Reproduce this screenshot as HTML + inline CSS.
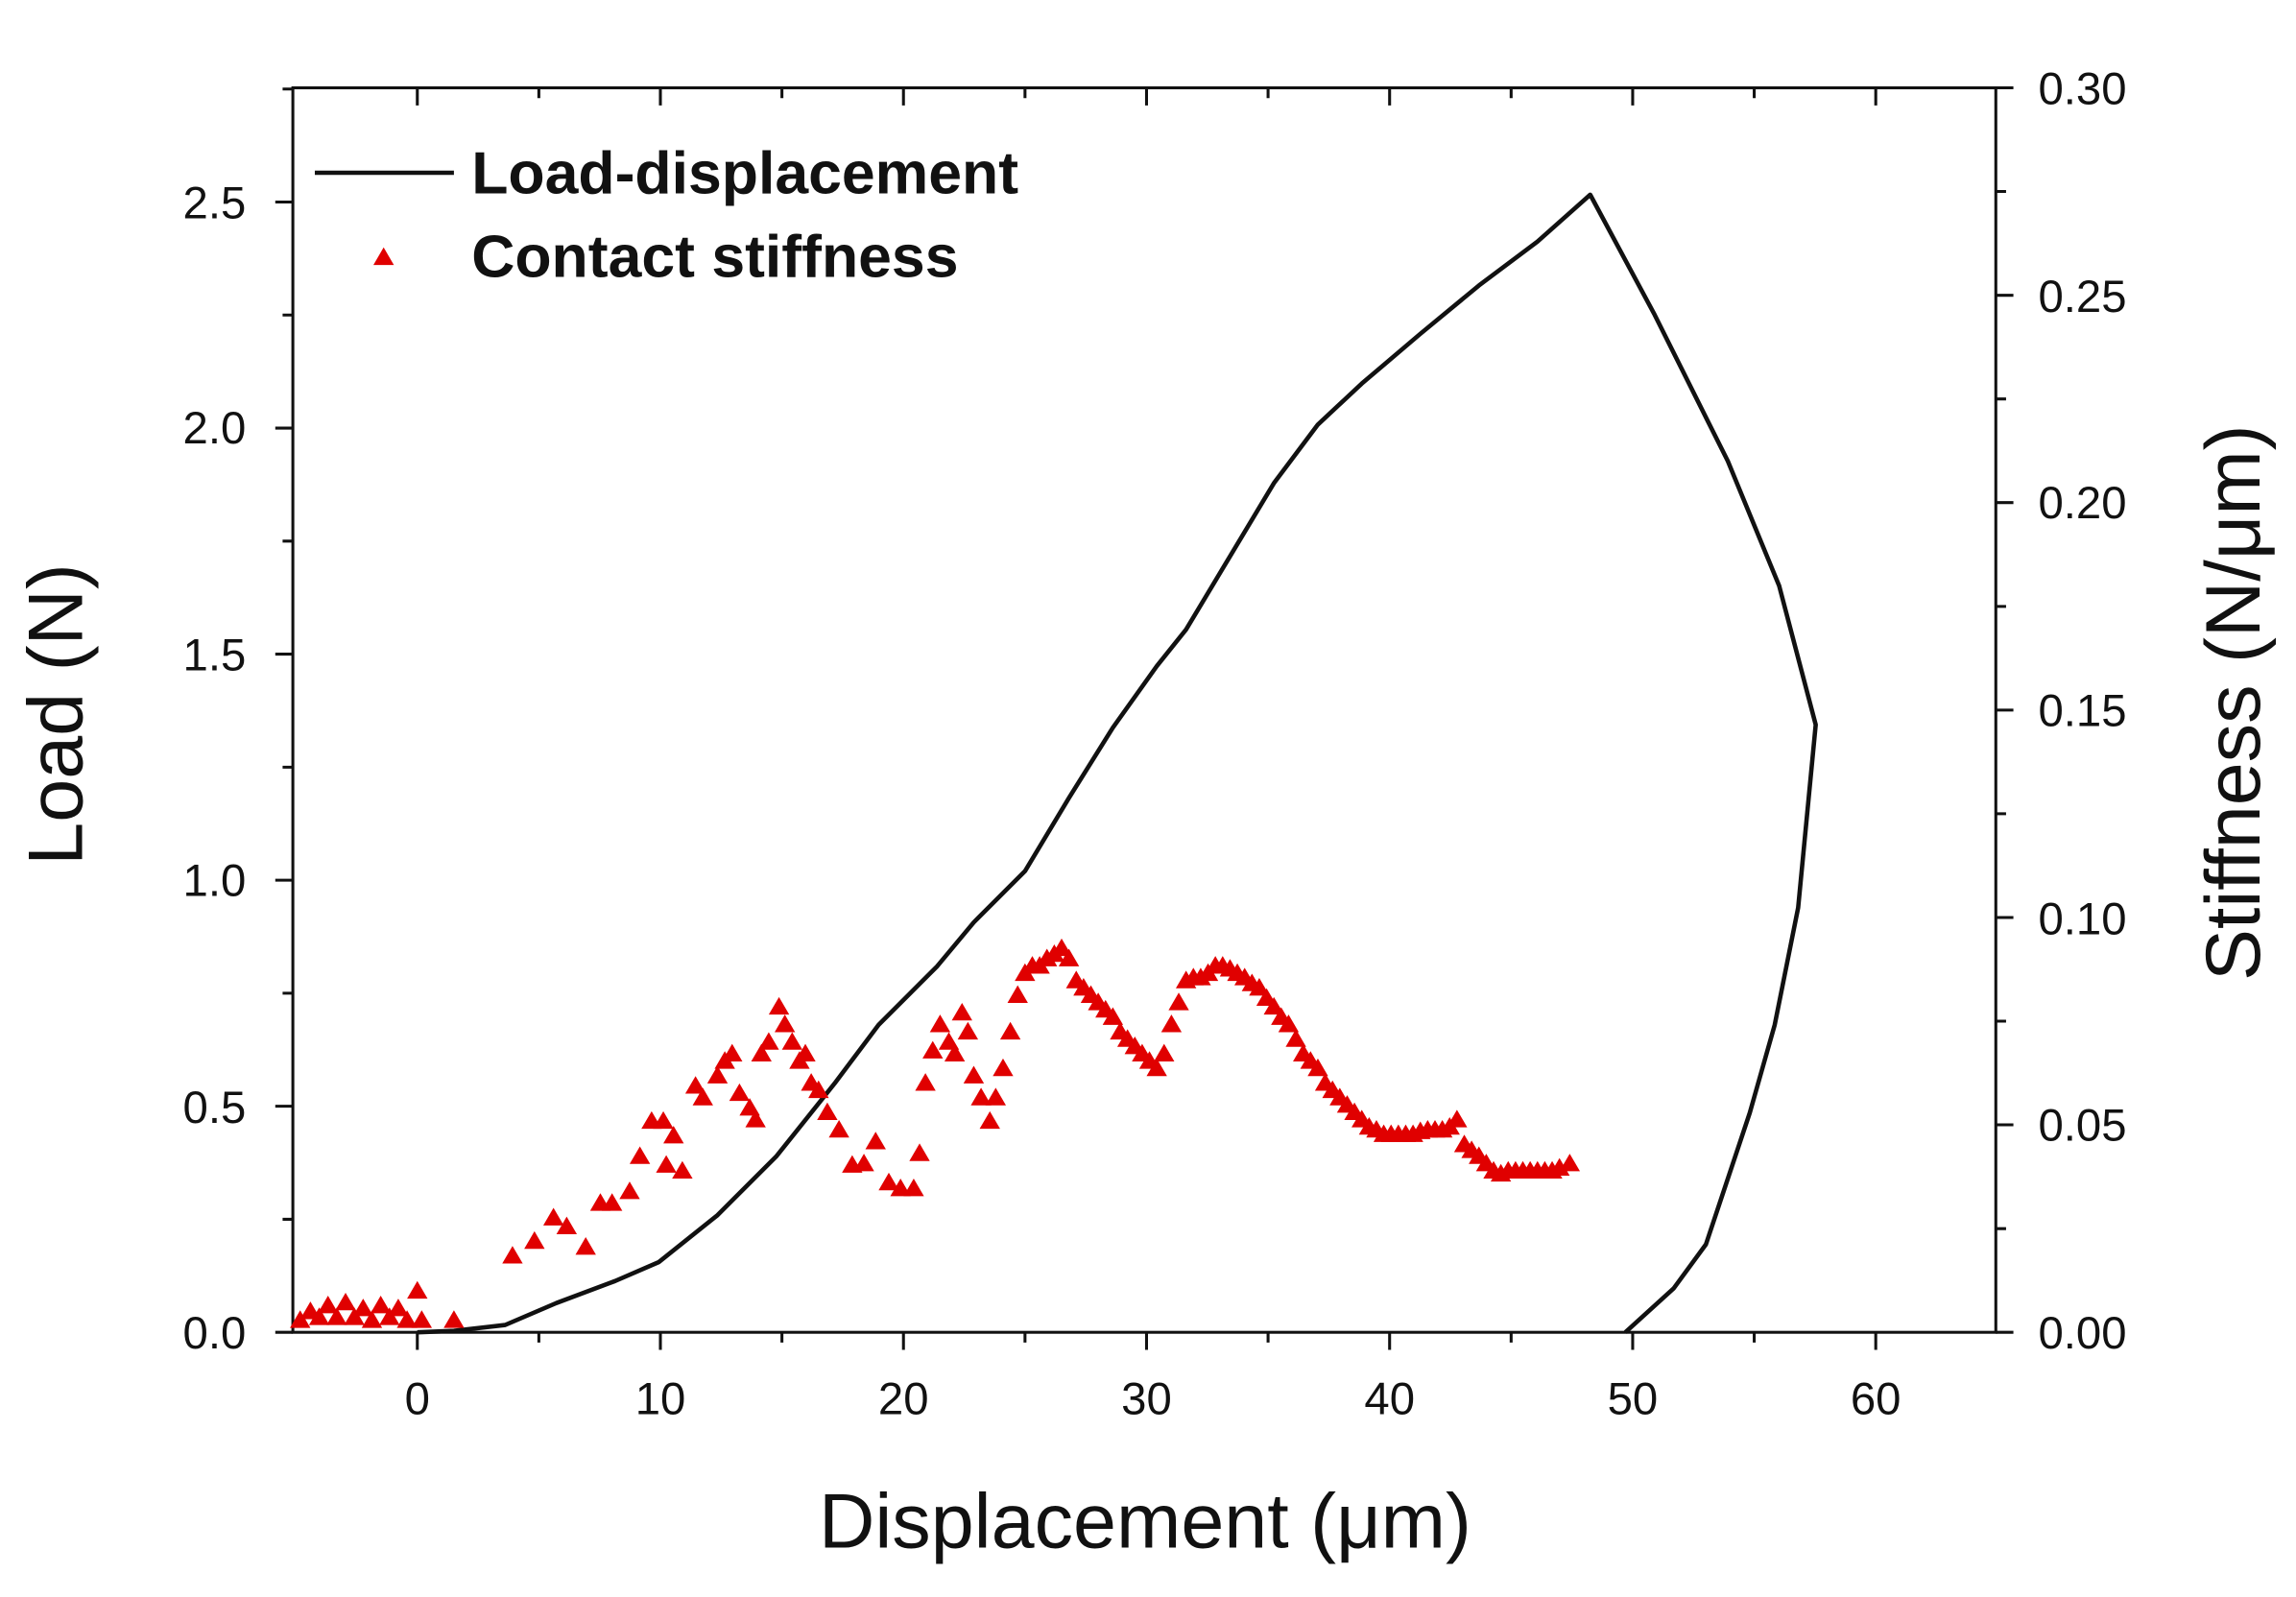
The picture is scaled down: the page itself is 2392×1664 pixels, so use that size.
<!DOCTYPE html>
<html><head><meta charset="utf-8"><style>html,body{margin:0;padding:0;background:#fff}svg{display:block}text{font-family:"Liberation Sans",sans-serif;fill:#111}</style></head>
<body>
<svg width="2392" height="1664" viewBox="0 0 1568 1090.8" preserveAspectRatio="none" xmlns="http://www.w3.org/2000/svg">
<defs><path id="t" d="M0,-7 L7,5 L-7,5 Z" fill="#e00000"/></defs>
<rect x="0" y="0" width="1568" height="1091" fill="#fff"/>
<g stroke="#111" stroke-width="2" fill="none">
<rect x="200" y="60" width="1163" height="850"/>
<path d="M200,910h-12M200,755.6h-12M200,601.2h-12M200,446.8h-12M200,292.4h-12M200,138h-12M200,832.8h-7M200,678.4h-7M200,524h-7M200,369.6h-7M200,215.2h-7M200,60.8h-7"/>
<path d="M1363,910h12M1363,768.3h12M1363,626.7h12M1363,485h12M1363,343.3h12M1363,201.7h12M1363,60h12M1363,839.2h7M1363,697.5h7M1363,555.8h7M1363,414.2h7M1363,272.5h7M1363,130.8h7"/>
<path d="M285,910v12M451,910v12M617,910v12M783,910v12M949,910v12M1115,910v12M1281,910v12M368,910v7M534,910v7M700,910v7M866,910v7M1032,910v7M1198,910v7"/>
<path d="M285,60v12M451,60v12M617,60v12M783,60v12M949,60v12M1115,60v12M1281,60v12M368,60v7M534,60v7M700,60v7M866,60v7M1032,60v7M1198,60v7"/>
</g>
<g font-size="31" text-anchor="end">
<text x="168" y="921">0.0</text><text x="168" y="767">0.5</text><text x="168" y="612">1.0</text><text x="168" y="458">1.5</text><text x="168" y="303">2.0</text><text x="168" y="149">2.5</text>
</g>
<g font-size="31" text-anchor="start">
<text x="1392" y="921">0.00</text><text x="1392" y="779">0.05</text><text x="1392" y="638">0.10</text><text x="1392" y="496">0.15</text><text x="1392" y="354">0.20</text><text x="1392" y="213">0.25</text><text x="1392" y="71">0.30</text>
</g>
<g font-size="31" text-anchor="middle">
<text x="285" y="966">0</text><text x="451" y="966">10</text><text x="617" y="966">20</text><text x="783" y="966">30</text><text x="949" y="966">40</text><text x="1115" y="966">50</text><text x="1281" y="966">60</text>
</g>
<text x="782" y="1057" font-size="53" text-anchor="middle">Displacement (μm)</text>
<text transform="translate(56,488) rotate(-90)" font-size="53" text-anchor="middle">Load (N)</text>
<text transform="translate(1543,480) rotate(-90)" font-size="53" text-anchor="middle">Stiffness (N/μm)</text>
<path d="M215,118H310" stroke="#111" stroke-width="3"/>
<text x="322" y="132" font-size="41" font-weight="bold">Load-displacement</text>
<use href="#t" x="262" y="176"/>
<text x="322" y="189" font-size="41" font-weight="bold">Contact stiffness</text>
<polyline fill="none" stroke="#111" stroke-width="3" stroke-linejoin="round" points="285,910 310,909 345,905 380,890 420,875 450,862 490,830 530,790 570,740 600,700 620,680 640,660 665,630 700,595 730,545 760,497 790,455 810,430 840,380 870,330 900,290 930,262 970,228 1010,195 1050,165 1086,133 1130,215 1180,315 1215,400 1240,495 1228,620 1212,700 1195,760 1165,850 1143,880 1110,910"/>
<g>
<use href="#t" x="205" y="902"/><use href="#t" x="212" y="896"/><use href="#t" x="218" y="900"/><use href="#t" x="224" y="892"/><use href="#t" x="230" y="900"/><use href="#t" x="236" y="890"/><use href="#t" x="242" y="900"/><use href="#t" x="248" y="894"/><use href="#t" x="254" y="902"/><use href="#t" x="260" y="892"/><use href="#t" x="266" y="900"/><use href="#t" x="272" y="894"/><use href="#t" x="278" y="902"/><use href="#t" x="285" y="882"/><use href="#t" x="288" y="902"/><use href="#t" x="310" y="902"/>
<use href="#t" x="350" y="858"/><use href="#t" x="365" y="848"/><use href="#t" x="378" y="832"/><use href="#t" x="387" y="838"/><use href="#t" x="400" y="852"/><use href="#t" x="410" y="822"/><use href="#t" x="418" y="822"/><use href="#t" x="430" y="814"/><use href="#t" x="437" y="790"/><use href="#t" x="445" y="766"/><use href="#t" x="453" y="766"/><use href="#t" x="455" y="796"/><use href="#t" x="466" y="800"/><use href="#t" x="460" y="776"/><use href="#t" x="475" y="742"/><use href="#t" x="480" y="750"/><use href="#t" x="490" y="735"/><use href="#t" x="495" y="725"/><use href="#t" x="500" y="720"/><use href="#t" x="505" y="747"/><use href="#t" x="512" y="757"/><use href="#t" x="516" y="765"/><use href="#t" x="520" y="720"/><use href="#t" x="525" y="712"/><use href="#t" x="532" y="688"/><use href="#t" x="536" y="700"/><use href="#t" x="541" y="712"/><use href="#t" x="546" y="725"/><use href="#t" x="550" y="720"/><use href="#t" x="554" y="740"/><use href="#t" x="559" y="745"/><use href="#t" x="565" y="760"/><use href="#t" x="573" y="772"/><use href="#t" x="582" y="796"/><use href="#t" x="590" y="795"/><use href="#t" x="598" y="780"/><use href="#t" x="607" y="808"/><use href="#t" x="615" y="812"/><use href="#t" x="624" y="812"/><use href="#t" x="628" y="788"/><use href="#t" x="632" y="740"/><use href="#t" x="637" y="718"/><use href="#t" x="642" y="700"/><use href="#t" x="648" y="712"/><use href="#t" x="652" y="720"/><use href="#t" x="657" y="692"/><use href="#t" x="661" y="705"/><use href="#t" x="665" y="735"/><use href="#t" x="670" y="750"/><use href="#t" x="676" y="766"/><use href="#t" x="680" y="750"/><use href="#t" x="685" y="730"/><use href="#t" x="690" y="705"/><use href="#t" x="695" y="680"/><use href="#t" x="700" y="665"/><use href="#t" x="705" y="660"/><use href="#t" x="710" y="660"/><use href="#t" x="715" y="655"/><use href="#t" x="720" y="652"/><use href="#t" x="725" y="648"/><use href="#t" x="730" y="655"/><use href="#t" x="735" y="670"/><use href="#t" x="740" y="675"/><use href="#t" x="745" y="680"/><use href="#t" x="750" y="685"/><use href="#t" x="755" y="690"/><use href="#t" x="760" y="695"/><use href="#t" x="765" y="705"/><use href="#t" x="770" y="710"/><use href="#t" x="775" y="715"/><use href="#t" x="780" y="720"/><use href="#t" x="785" y="725"/><use href="#t" x="790" y="730"/><use href="#t" x="795" y="720"/><use href="#t" x="800" y="700"/><use href="#t" x="805" y="685"/><use href="#t" x="810" y="670"/><use href="#t" x="815" y="668"/><use href="#t" x="820" y="668"/><use href="#t" x="825" y="665"/><use href="#t" x="830" y="660"/><use href="#t" x="835" y="660"/><use href="#t" x="840" y="662"/><use href="#t" x="845" y="665"/><use href="#t" x="850" y="668"/><use href="#t" x="855" y="672"/><use href="#t" x="860" y="675"/><use href="#t" x="865" y="682"/><use href="#t" x="870" y="688"/><use href="#t" x="875" y="695"/><use href="#t" x="880" y="700"/><use href="#t" x="885" y="710"/><use href="#t" x="890" y="720"/><use href="#t" x="895" y="725"/><use href="#t" x="900" y="730"/><use href="#t" x="905" y="740"/><use href="#t" x="910" y="745"/><use href="#t" x="915" y="750"/><use href="#t" x="920" y="755"/><use href="#t" x="925" y="760"/><use href="#t" x="930" y="765"/><use href="#t" x="935" y="770"/><use href="#t" x="940" y="772"/><use href="#t" x="945" y="775"/><use href="#t" x="950" y="775"/><use href="#t" x="955" y="775"/><use href="#t" x="960" y="775"/><use href="#t" x="965" y="775"/><use href="#t" x="970" y="773"/><use href="#t" x="975" y="772"/><use href="#t" x="980" y="772"/><use href="#t" x="985" y="772"/><use href="#t" x="990" y="770"/><use href="#t" x="995" y="765"/><use href="#t" x="1000" y="782"/><use href="#t" x="1005" y="786"/><use href="#t" x="1010" y="790"/><use href="#t" x="1015" y="795"/><use href="#t" x="1020" y="800"/><use href="#t" x="1025" y="802"/><use href="#t" x="1030" y="800"/><use href="#t" x="1035" y="800"/><use href="#t" x="1040" y="800"/><use href="#t" x="1045" y="800"/><use href="#t" x="1050" y="800"/><use href="#t" x="1055" y="800"/><use href="#t" x="1060" y="800"/><use href="#t" x="1065" y="798"/><use href="#t" x="1072" y="795"/>
</g>
</svg>
</body></html>
